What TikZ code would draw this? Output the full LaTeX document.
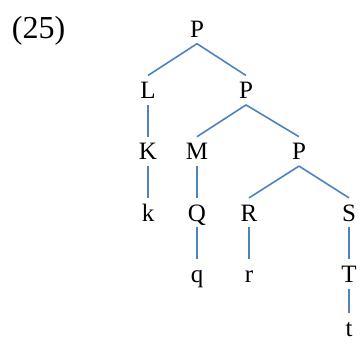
\documentclass[tikz,border=0pt]{standalone}
\usepackage{fontspec}
\setmainfont{Liberation Serif}
\definecolor{treeblue}{RGB}{79,129,189}
\tikzset{
every node/.style={font=\fontsize{25}{30}\selectfont, text height=17pt, text depth=0pt, inner xsep=0pt, inner ysep=6pt}, % same box for every label
edge from parent/.style={draw=treeblue, line width=1.6pt}, % blue branches
edge from parent path={(\tikzparentnode.south) -- (\tikzchildnode.north)}, % bottom of parent to top of child
}
\begin{document}
\begin{tikzpicture}[x=1pt, y=1pt, level distance=61.2pt, sibling distance=98pt, level 3/.style={sibling distance=100pt}]
            \useasboundingbox (0,0) rectangle (361,-343);
            \node[font=\fontsize{32}{38}\selectfont, anchor=base] (num) at (38.5,-38) {(25)};
            \node (p0) at (197,-29) {P}
            child {node (l) {L}
                child {node (k) {K}
                    child {node (k1) {k}}
                }
            }
            child {node (p1) {P}
                child {node (m) {M}
                    child {node (q) {Q}
                        child {node (q1) {q}}
                    }
                }
                child[xshift=4pt] {node (p2) {P}
                    child {node (r) {R}
                        child {node (r1) {r}}
                    }
                    child {node (s) {S}
                        child {node (t) {T}
                            child[yshift=7pt] {node (t1) {t}} % last label kept inside the bottom edge
                        }
                    }
                }
            }
            ;
        \end{tikzpicture}
\end{document}
